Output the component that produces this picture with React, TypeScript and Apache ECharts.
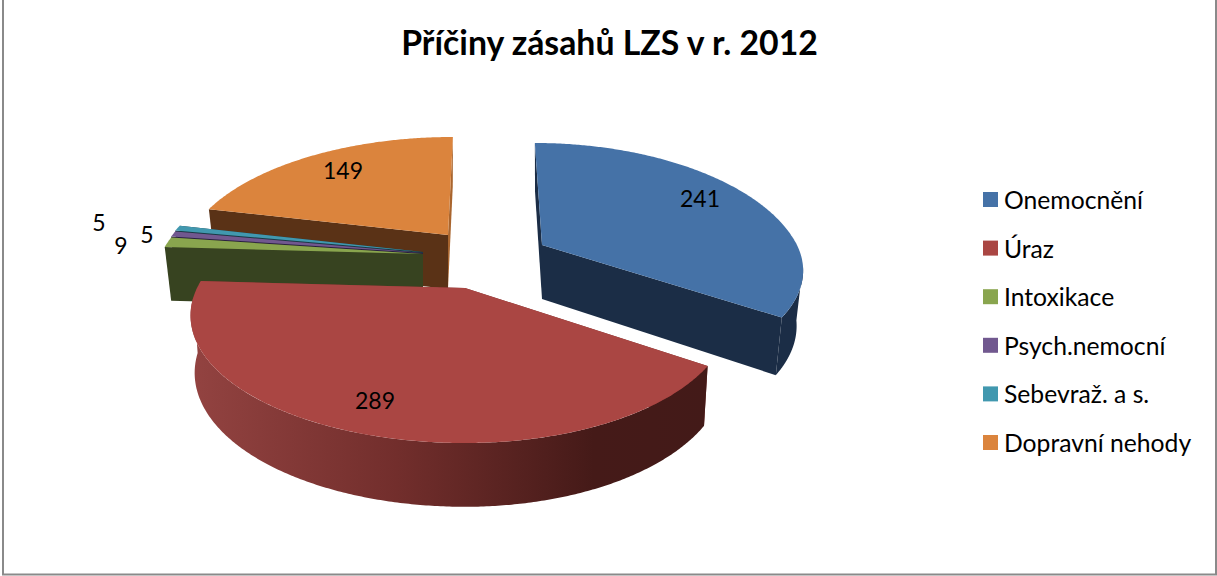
import React, { useEffect, useRef } from "react";
import * as echarts from "echarts";

const titleText = "Příčiny zásahů LZS v r. 2012";
const categories = ["Onemocnění", "Úraz", "Intoxikace", "Psych.nemocní", "Sebevraž. a s.", "Dopravní nehody"];
const values = [241, 289, 9, 5, 5, 149];
const topColors = ["#4572a7", "#aa4643", "#89a54e", "#71588f", "#4198af", "#db843d"];
const wallColors = ["#1b2d46", "#7a302e", "#374320", "#2a2140", "#1a3c46", "#5a3216"];
const sliverColors = ["#1b2d46", "#7a302e", "#374320", "#2a2140", "#1a3c46", "#a9652e"];
const apexX = [542, 465, 423, 423, 423, 448];
const apexY = [245, 288, 254, 253, 252, 235];
const spreadLeft = [255, 268, 262, 262, 262, 259];
const spreadRight = [255, 258, 262, 262, 262, 255];
const skews = [0.07, 0, 0, 0, 0, -0.05];
const nearY = [0.93, 1, 1, 1, 1, 1];
const farY = [1.02, 1, 1, 1, 1, 0.98];
const heights = [54, 56, 54, 54, 54, 54];
const baseScale = [0.975, 0.985, 0.975, 0.975, 0.975, 0.975];
const labelX = [700, 375, 121, 147, 99, 343];
const labelY = [198, 400, 245, 234, 222, 170];
const drawOrder = [6, 5, 4, 3, 2, 1];
const DEG = Math.PI / 180;
const total = values.reduce((a, b) => a + b, 0);

function rimOffset(i: number, deg: number) {
  const s = Math.sin(deg * DEG);
  const c = Math.cos(deg * DEG);
  const w = 1 + 0.2157 * c;
  const raw = (-121.6 * c) / w;
  const y = raw * (raw < 0 ? farY[i] : nearY[i]);
  const x = ((s < 0 ? spreadLeft[i] : spreadRight[i]) * s) / w + skews[i] * Math.min(y, 0);
  return [x, y];
}

function top(i: number, deg: number) {
  const [x, y] = rimOffset(i, deg);
  return [apexX[i] + x, apexY[i] + y];
}

function bottom(i: number, deg: number) {
  const [x, y] = rimOffset(i, deg);
  return [apexX[i] + x * baseScale[i], apexY[i] + y * 1.05 + heights[i]];
}

function arc(from: number, to: number) {
  const list: number[] = [];
  const n = Math.max(2, Math.ceil((to - from) * 2));
  for (let k = 0; k <= n; k++) list.push(from + ((to - from) * k) / n);
  return list;
}

function renderSlice(i: number) {
  const before = values.slice(0, i).reduce((a, b) => a + b, 0);
  const a0 = (before / total) * 360;
  const a1 = ((before + values[i]) / total) * 360;
  const apexTop = [apexX[i], apexY[i]];
  const apexBottom = [apexX[i], apexY[i] + heights[i]];
  const children: any[] = [];
  children.push({
    type: "polygon",
    shape: { points: [apexTop, top(i, a1), bottom(i, a1), apexBottom] },
    style: { fill: sliverColors[i] },
  });
  children.push({
    type: "polygon",
    shape: { points: [apexTop, top(i, a0), bottom(i, a0), apexBottom] },
    style: { fill: wallColors[i] },
  });
  const v0 = Math.max(a0, 100);
  const v1 = Math.min(a1, 266);
  if (v1 > v0) {
    const angles = arc(v0, v1);
    const fill =
      i === 1
        ? new echarts.graphic.LinearGradient(0, 0, 1, 0, [
            { offset: 0, color: "#934341" },
            { offset: 0.4, color: "#722e2c" },
            { offset: 0.78, color: "#451a18" },
            { offset: 1, color: "#431a18" },
          ])
        : wallColors[i];
    children.push({
      type: "polygon",
      shape: {
        points: [...angles.map((d) => top(i, d)), ...angles.slice().reverse().map((d) => bottom(i, d))],
      },
      style: { fill },
    });
  }
  children.push({
    type: "polygon",
    shape: { points: [apexTop, ...arc(a0, a1).map((d) => top(i, d))] },
    style: { fill: topColors[i] },
  });
  return { type: "group", children };
}

function renderLabel(i: number) {
  return {
    type: "text",
    x: labelX[i],
    y: labelY[i],
    style: {
      text: String(values[i]),
      font: "23px Lato",
      fill: "#000",
      align: "center",
      verticalAlign: "middle",
    },
  };
}

export default function App() {
  const ref = useRef<HTMLDivElement>(null);
  useEffect(() => {
    const chart = echarts.init(ref.current!, undefined, { renderer: "svg" });
    chart.setOption({
      animation: false,
      backgroundColor: "#fff",
      title: {
        text: titleText,
        left: 604.5,
        top: 20,
        textAlign: "center",
        textStyle: { fontFamily: "Lato", fontWeight: "bold", fontSize: 33.8, color: "#000" },
      },
      legend: {
        orient: "vertical",
        left: 983,
        top: 187,
        padding: 0,
        itemWidth: 15,
        itemHeight: 15,
        itemGap: 23.6,
        icon: "rect",
        selectedMode: false,
        data: categories.map((name, i) => ({ name, itemStyle: { color: topColors[i] } })),
        textStyle: { fontFamily: "Lato", fontSize: 24.7, color: "#000", padding: [0, 0, 0, 1] },
      },
      graphic: [
        {
          type: "rect",
          shape: { x: 3, y: -3, width: 1213, height: 577.5 },
          style: { fill: "none", stroke: "#8a8a8a", lineWidth: 2 },
          z: -1,
          silent: true,
        },
      ],
      series: [
        ...categories.map((name, i) => ({
          type: "custom",
          name,
          coordinateSystem: "none",
          z: 2 + drawOrder[i],
          silent: true,
          itemStyle: { color: topColors[i] },
          data: [[values[i]]],
          renderItem: () => renderSlice(i),
        })),
        {
          type: "custom",
          coordinateSystem: "none",
          z: 20,
          silent: true,
          data: values.map((v) => [v]),
          renderItem: (params: any) => renderLabel(params.dataIndex),
        },
      ],
    });
    return () => chart.dispose();
  }, []);
  return <div ref={ref} style={{ position: "absolute", left: 0, top: 0, width: 1217, height: 576 }} />;
}
